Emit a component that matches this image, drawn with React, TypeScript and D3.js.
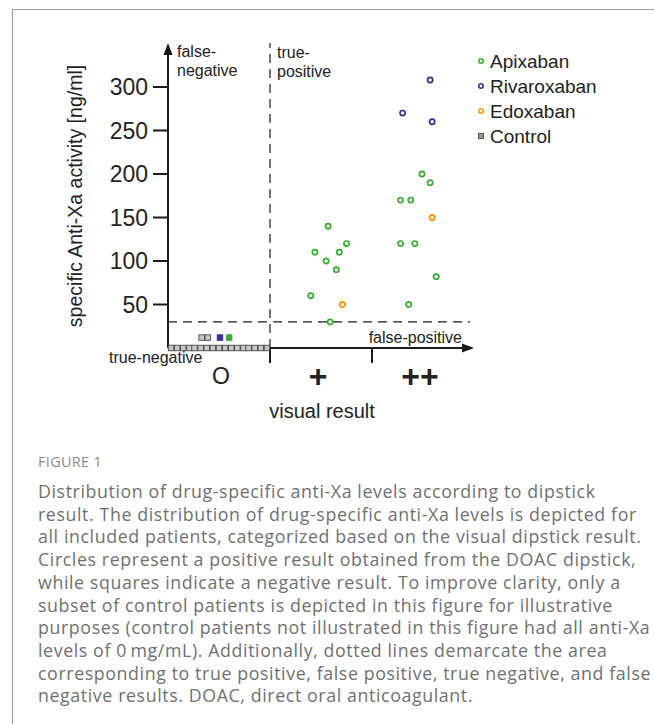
import * as d3 from "d3";

const categories = ["O", "+", "++"];
const yTicks = [50, 100, 150, 200, 250, 300];
const threshold = 30;

// pos = place on the x axis in category units (0-3), val = anti-Xa [ng/ml]
const apixabanPos = [1.57, 1.75, 1.44, 1.68, 1.55, 1.65, 1.4, 1.59, 2.28, 2.38, 2.49, 2.57, 2.28, 2.42, 2.63, 2.36];
const apixabanVal = [140, 120, 110, 110, 100, 90, 60, 30, 170, 170, 200, 190, 120, 120, 82, 50];
const rivaroxabanPos = [2.57, 2.3, 2.59];
const rivaroxabanVal = [308, 270, 260];
const edoxabanPos = [1.71, 2.59];
const edoxabanVal = [50, 150];

// negative dipstick (squares)
const controlPos = [0.03, 0.09, 0.15, 0.21, 0.26, 0.32, 0.38, 0.44, 0.5, 0.56, 0.62, 0.68, 0.74, 0.79, 0.85, 0.91, 0.97];
const controlVal = [0, 0, 0, 0, 0, 0, 0, 0, 0, 0, 0, 0, 0, 0, 0, 0, 0];
const negControlPos = [0.33, 0.39];
const negControlVal = [12, 12];
const negRivaroxabanPos = [0.51];
const negRivaroxabanVal = [12];
const negApixabanPos = [0.6];
const negApixabanVal = [12];

const legendNames = ["Apixaban", "Rivaroxaban", "Edoxaban", "Control"];

const captionLines = [
  "Distribution of drug-specific anti-Xa levels according to dipstick",
  "result. The distribution of drug-specific anti-Xa levels is depicted for",
  "all included patients, categorized based on the visual dipstick result.",
  "Circles represent a positive result obtained from the DOAC dipstick,",
  "while squares indicate a negative result. To improve clarity, only a",
  "subset of control patients is depicted in this figure for illustrative",
  "purposes (control patients not illustrated in this figure had all anti-Xa",
  "levels of 0\u2009mg/mL). Additionally, dotted lines demarcate the area",
  "corresponding to true positive, false positive, true negative, and false",
  "negative results. DOAC, direct oral anticoagulant.",
];

const COLORS = {
  apixaban: "#3aaa35",
  rivaroxaban: "#3b2a8c",
  edoxaban: "#f39200",
  controlFill: "#c8c8c8",
  controlStroke: "#4a4a4a",
  axis: "#1a1a1a",
  text: "#222222",
  caption: "#707070",
  frame: "#a0a0a0",
};

const FONT = "'Liberation Sans', Arial, sans-serif";
const CAPTION_FONT = "'Open Sans', sans-serif";

const App = () => {
  const x = d3.scaleLinear().domain([0, 3]).range([168, 474]);
  const y = d3.scaleLinear().domain([0, 300]).range([348, 87]);
  const x0 = x(0);
  const y0 = y(0);

  const circles = (pos: number[], val: number[], color: string, key: string) =>
    pos.map((p, i) => (
      <circle key={key + i} cx={x(p)} cy={y(val[i])} r={2.6} fill="#fff" stroke={color} strokeWidth={1.7} />
    ));

  const squares = (pos: number[], val: number[], fill: string, stroke: string, size: number, key: string) =>
    pos.map((p, i) => (
      <rect
        key={key + i}
        x={x(p) - size / 2}
        y={y(val[i]) - size / 2}
        width={size}
        height={size}
        fill={fill}
        stroke={stroke}
        strokeWidth={0.9}
      />
    ));

  const legendColors = [COLORS.apixaban, COLORS.rivaroxaban, COLORS.edoxaban];

  return (
    <div style={{ position: "absolute", left: 0, top: 0 }}>
      <svg width={654} height={724} style={{ display: "block", background: "#fff" }}>
        {/* frame */}
        <line x1={12} y1={9.5} x2={654} y2={9.5} stroke={COLORS.frame} strokeWidth={1.2} />
        <line x1={12.5} y1={9} x2={12.5} y2={724} stroke={COLORS.frame} strokeWidth={1.2} />

        {/* threshold lines */}
        <line x1={x0} x2={470} y1={y(threshold)} y2={y(threshold)} stroke={COLORS.axis} strokeWidth={1.2} strokeDasharray="9,6" />
        <line x1={x(1)} x2={x(1)} y1={y0} y2={43} stroke={COLORS.axis} strokeWidth={1.2} strokeDasharray="9,6" />

        {/* y axis */}
        <line x1={x0} x2={x0} y1={y0} y2={50} stroke={COLORS.axis} strokeWidth={2} />
        <polygon points={`${x0},43 ${x0 - 4.5},55 ${x0 + 4.5},55`} fill={COLORS.axis} />
        {yTicks.map((t) => (
          <g key={t}>
            <line x1={x0 - 15} x2={x0} y1={y(t)} y2={y(t)} stroke={COLORS.axis} strokeWidth={2} />
            <text x={x0 - 20} y={y(t) + 8} textAnchor="end" fontSize={23} fontFamily={FONT} fill={COLORS.text}>
              {t}
            </text>
          </g>
        ))}
        <text
          transform={`translate(82, 196) rotate(-90)`}
          textAnchor="middle"
          fontSize={19.5}
          fontFamily={FONT}
          fill={COLORS.text}
        >
          specific Anti-Xa activity [ng/ml]
        </text>

        {/* x axis */}
        <line x1={x0} x2={466} y1={y0} y2={y0} stroke={COLORS.axis} strokeWidth={2} />
        <polygon points={`474,${y0} 462,${y0 - 4.5} 462,${y0 + 4.5}`} fill={COLORS.axis} />
        {[1, 2].map((t) => (
          <line key={t} x1={x(t)} x2={x(t)} y1={y0} y2={y0 + 15} stroke={COLORS.axis} strokeWidth={2} />
        ))}
        {categories.map((c, i) => (
          <text
            key={c}
            x={x(i + 0.5) + (i === 0 ? 2 : -3)}
            y={i === 0 ? 384 : 387}
            textAnchor="middle"
            fontSize={i === 0 ? 23 : 32}
            fontWeight={i === 0 ? "normal" : "bold"}
            fontFamily={FONT}
            fill={COLORS.text}
          >
            {c}
          </text>
        ))}
        <text x={322} y={418} textAnchor="middle" fontSize={20} fontFamily={FONT} fill={COLORS.text}>
          visual result
        </text>

        {/* quadrant labels */}
        <text fontSize={16} fontFamily={FONT} fill={COLORS.text}>
          <tspan x={177} y={57}>false-</tspan>
          <tspan x={177} y={76}>negative</tspan>
        </text>
        <text fontSize={16} fontFamily={FONT} fill={COLORS.text}>
          <tspan x={277} y={58}>true-</tspan>
          <tspan x={277} y={77}>positive</tspan>
        </text>
        <text x={462} y={343} textAnchor="end" fontSize={16} fontFamily={FONT} fill={COLORS.text}>
          false-positive
        </text>
        <text x={109} y={363} fontSize={16} fontFamily={FONT} fill={COLORS.text}>
          true-negative
        </text>

        {/* marks */}
        {squares(controlPos, controlVal, COLORS.controlFill, COLORS.controlStroke, 5.5, "c")}
        {squares(negControlPos, negControlVal, COLORS.controlFill, COLORS.controlStroke, 5.5, "nc")}
        {squares(negRivaroxabanPos, negRivaroxabanVal, COLORS.rivaroxaban, COLORS.rivaroxaban, 5.5, "nr")}
        {squares(negApixabanPos, negApixabanVal, COLORS.apixaban, COLORS.apixaban, 5.5, "na")}
        {circles(apixabanPos, apixabanVal, COLORS.apixaban, "a")}
        {circles(rivaroxabanPos, rivaroxabanVal, COLORS.rivaroxaban, "r")}
        {circles(edoxabanPos, edoxabanVal, COLORS.edoxaban, "e")}

        {/* legend */}
        {legendNames.map((name, i) => {
          const cy = 61 + i * 25;
          return (
            <g key={name}>
              {i < 3 ? (
                <circle cx={481} cy={cy} r={2.2} fill="#fff" stroke={legendColors[i]} strokeWidth={1.6} />
              ) : (
                <rect x={478.5} y={cy - 2.5} width={5} height={5} fill="#999" stroke={COLORS.controlStroke} strokeWidth={0.9} />
              )}
              <text x={490} y={cy + 7} fontSize={19} fontFamily={FONT} fill={COLORS.text}>
                {name}
              </text>
            </g>
          );
        })}

        {/* caption */}
        <text x={38} y={467} fontSize={14.5} fontFamily={CAPTION_FONT} fill="#8a8a8a" letterSpacing={0.3}>
          FIGURE 1
        </text>
        {captionLines.map((line, i) => (
          <text
            key={i}
            x={38}
            y={498 + i * 22.7}
            fontSize={17.8}
            letterSpacing={0.6}
            fontFamily={CAPTION_FONT}
            fill={COLORS.caption}
          >
            {line}
          </text>
        ))}
      </svg>
    </div>
  );
};

export default App;
